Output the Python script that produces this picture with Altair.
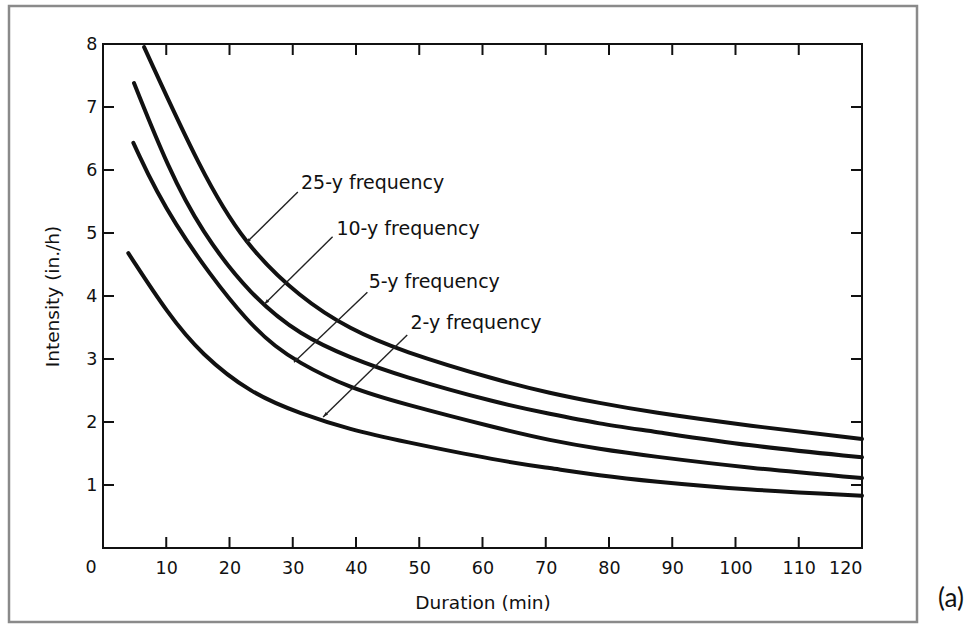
import altair as alt
import pandas as pd
import numpy as np

# ---- data ----
dur_25 = [6.5, 15.5, 22.3, 31.3, 39.1, 47.0, 62.8, 70.6, 78.5, 86.4, 102.1, 120]
int_25 = [7.95, 5.98, 4.83, 3.96, 3.47, 3.13, 2.65, 2.46, 2.30, 2.16, 1.94, 1.73]

dur_10 = [4.9, 10.3, 15.5, 23.4, 31.3, 39.1, 47.0, 62.8, 70.6, 78.5, 86.4, 102.1, 120]
int_10 = [7.38, 6.03, 5.03, 4.00, 3.37, 3.02, 2.73, 2.29, 2.13, 1.97, 1.86, 1.62, 1.44]

dur_5 = [4.8, 10.3, 23.4, 31.3, 39.1, 47.0, 62.8, 70.6, 78.5, 86.4, 102.1, 120]
int_5 = [6.43, 5.24, 3.45, 2.91, 2.54, 2.30, 1.89, 1.71, 1.57, 1.46, 1.27, 1.11]

dur_2 = [4.0, 10.3, 15.5, 23.4, 31.3, 39.1, 47.0, 62.8, 70.6, 78.5, 86.4, 102.1, 120]
int_2 = [4.68, 3.71, 3.08, 2.45, 2.13, 1.88, 1.70, 1.38, 1.27, 1.15, 1.06, 0.92, 0.83]

labels = ["25-y frequency", "10-y frequency", "5-y frequency", "2-y frequency"]
label_x = [31.3, 36.9, 42.0, 48.6]
label_y = [5.79, 5.06, 4.22, 3.57]
arrow_tail_x = [30.8, 36.3, 41.8, 48.1]
arrow_tail_y = [5.65, 4.94, 4.06, 3.38]
arrow_tip_x = [22.6, 25.5, 30.2, 34.8]
arrow_tip_y = [4.84, 3.87, 2.95, 2.08]

x_labels = list(range(0, 130, 10))
y_labels = list(range(1, 9))
x_minor_ticks = list(range(10, 120, 10))
y_minor_ticks = list(range(1, 8))

# ---- layout ----
W, H = 759, 504
LEFT, TOP = 103, 44
FONT = "DejaVu Sans"
TICK = 11
INK = "#111"

rows = []
for name, ds, vs in [("25", dur_25, int_25), ("10", dur_10, int_10),
                     ("5", dur_5, int_5), ("2", dur_2, int_2)]:
    for k, (d, v) in enumerate(zip(ds, vs)):
        rows.append({"series": name, "duration": d, "intensity": v, "order": k})
curves = pd.DataFrame(rows)

dx = (np.array(arrow_tip_x) - np.array(arrow_tail_x)) * W / 120.0
dy = -(np.array(arrow_tip_y) - np.array(arrow_tail_y)) * H / 8.0
angles = np.mod(np.degrees(np.arctan2(dx, -dy)), 360)
arrows = pd.DataFrame({
    "label": labels, "lx": label_x, "ly": label_y,
    "tx": arrow_tail_x, "ty": arrow_tail_y,
    "hx": arrow_tip_x, "hy": arrow_tip_y, "angle": angles,
})
xt = pd.DataFrame({"v": x_minor_ticks})
yt = pd.DataFrame({"v": y_minor_ticks})
zero_df = pd.DataFrame({"v": [0], "t": ["0"]})

xs = alt.Scale(domain=[0, 120], nice=False, zero=False)
ys = alt.Scale(domain=[0, 8], nice=False, zero=False)

bottom_axis = alt.Axis(
    orient="bottom", values=x_labels, ticks=False, domain=False, grid=False,
    labelFont=FONT, labelFontSize=17.5, labelColor=INK, labelPadding=11,
    labelExpr="datum.value === 0 ? '' : datum.label",
    title="Duration (min)", titleFont=FONT, titleFontSize=18.5,
    titleFontWeight="normal", titleColor=INK, titlePadding=17,
)
left_axis = alt.Axis(
    orient="left", values=y_labels, ticks=False, domain=False, grid=False,
    labelFont=FONT, labelFontSize=17.5, labelColor=INK, labelPadding=6,
    title="Intensity (in./h)", titleFont=FONT, titleFontSize=18.5,
    titleFontWeight="normal", titleColor=INK, titlePadding=23,
)

lines = alt.Chart(curves).mark_line(
    interpolate="basis", strokeWidth=4, color=INK, strokeCap="round"
).encode(
    x=alt.X("duration:Q", scale=xs, axis=bottom_axis),
    y=alt.Y("intensity:Q", scale=ys, axis=left_axis),
    detail="series:N",
    order="order:Q",
)

tick_mark = dict(strokeWidth=2, color=INK)
ticks_bottom = alt.Chart(xt).mark_rule(**tick_mark).encode(
    x=alt.X("v:Q", scale=xs, axis=None), y=alt.value(H), y2=alt.value(H - TICK))
ticks_top = alt.Chart(xt).mark_rule(**tick_mark).encode(
    x=alt.X("v:Q", scale=xs, axis=None), y=alt.value(0), y2=alt.value(TICK))
ticks_left = alt.Chart(yt).mark_rule(**tick_mark).encode(
    y=alt.Y("v:Q", scale=ys, axis=None), x=alt.value(0), x2=alt.value(TICK))
ticks_right = alt.Chart(yt).mark_rule(**tick_mark).encode(
    y=alt.Y("v:Q", scale=ys, axis=None), x=alt.value(W), x2=alt.value(W - TICK))

zero_label = alt.Chart(zero_df).mark_text(
    font=FONT, fontSize=17.5, color=INK, align="center", baseline="middle", dx=-12
).encode(
    x=alt.X("v:Q", scale=xs, axis=None), y=alt.value(H + 20), text="t:N")

arrow_lines = alt.Chart(arrows).mark_rule(strokeWidth=1.4, color="#222").encode(
    x=alt.X("tx:Q", scale=xs, axis=None),
    y=alt.Y("ty:Q", scale=ys, axis=None),
    x2="hx:Q",
    y2="hy:Q",
)

arrow_heads = alt.Chart(arrows).mark_point(
    shape="M0,0L-0.32,1L0.32,1Z", filled=True, size=110, color="#222", opacity=1
).encode(
    x=alt.X("hx:Q", scale=xs, axis=None),
    y=alt.Y("hy:Q", scale=ys, axis=None),
    angle=alt.Angle("angle:Q", scale=None),
)

texts = alt.Chart(arrows).mark_text(
    align="left", baseline="middle", font=FONT, fontSize=19, color=INK
).encode(
    x=alt.X("lx:Q", scale=xs, axis=None),
    y=alt.Y("ly:Q", scale=ys, axis=None),
    text="label:N",
)

deco = pd.DataFrame({"t": ["(a)"]})
outer_box = alt.Chart(deco).mark_rect(
    fill=None, stroke="#8a8a8a", strokeWidth=2.5
).encode(
    x=alt.value(9 - LEFT), x2=alt.value(917 - LEFT),
    y=alt.value(6 - TOP), y2=alt.value(622 - TOP),
)
panel_tag = alt.Chart(deco).mark_text(
    font="Lato", fontSize=26, color="#111", align="center", baseline="middle"
).encode(
    x=alt.value(951 - LEFT), y=alt.value(599 - TOP), text="t:N"
)

chart = alt.layer(
    lines, ticks_bottom, ticks_top, ticks_left, ticks_right, zero_label,
    arrow_lines, arrow_heads, texts, outer_box, panel_tag
).resolve_axis(
    x="independent", y="independent"
).properties(
    width=W, height=H,
    autosize=alt.AutoSizeParams(type="none"),
    padding={"left": LEFT, "top": TOP, "right": 973 - LEFT - W, "bottom": 626 - TOP - H},
    background="white",
).configure_view(
    stroke=INK, strokeWidth=2
)

chart.save("out.html", embed_options={"renderer": "svg", "actions": False})
